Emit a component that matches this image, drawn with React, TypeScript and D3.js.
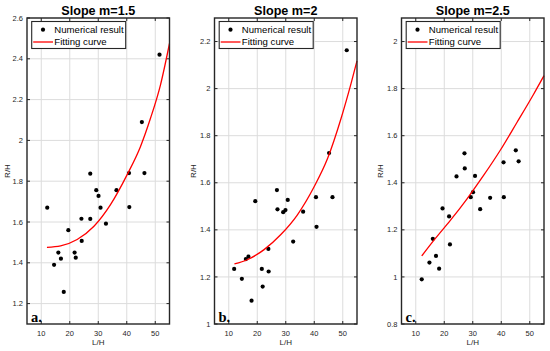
import React from "react";
import * as d3 from "d3";

// ---- Data ----
const titles = ["Slope m=1.5", "Slope m=2", "Slope m=2.5"];
const panelLetters = ["a.", "b.", "c."];
const xTicks = [10, 20, 30, 40, 50];

const yTicksA = [1.2, 1.4, 1.6, 1.8, 2, 2.2, 2.4, 2.6];
const yTicksB = [1, 1.2, 1.4, 1.6, 1.8, 2, 2.2];
const yTicksC = [0.8, 1, 1.2, 1.4, 1.6, 1.8, 2];

const pointsXA = [12.1, 14.5, 16.0, 16.9, 17.9, 19.5, 21.7, 22.1, 24.1, 24.2, 27.2, 27.2, 29.3, 30.1, 30.8, 32.7, 36.4, 40.8, 40.9, 45.3, 46.2, 51.5];
const pointsYA = [1.67, 1.39, 1.45, 1.42, 1.257, 1.56, 1.45, 1.425, 1.616, 1.507, 1.837, 1.615, 1.756, 1.728, 1.67, 1.592, 1.756, 1.84, 1.673, 2.09, 1.84, 2.42];
const curveXA = [12, 16.8, 22.6, 28.5, 34.3, 40.1, 44.8, 48.3, 51.8, 55];
const curveYA = [1.476, 1.483, 1.514, 1.579, 1.685, 1.831, 1.969, 2.107, 2.27, 2.475];

const pointsXB = [11.9, 14.6, 16.0, 16.9, 18.0, 19.3, 21.6, 21.9, 23.9, 24.0, 26.9, 27.1, 29.1, 29.9, 30.7, 32.6, 36.1, 40.6, 40.8, 45.2, 46.4, 51.4];
const pointsYB = [1.234, 1.192, 1.276, 1.286, 1.099, 1.522, 1.234, 1.159, 1.319, 1.223, 1.569, 1.487, 1.475, 1.484, 1.527, 1.35, 1.477, 1.539, 1.413, 1.726, 1.539, 2.163];
const curveXB = [12, 16.5, 22.4, 28.2, 34.1, 40, 44.7, 49.4, 52.9, 55];
const curveYB = [1.255, 1.273, 1.316, 1.379, 1.464, 1.584, 1.704, 1.873, 2.021, 2.118];

const pointsXC = [12.1, 14.8, 16.0, 17.1, 18.2, 19.4, 21.7, 22.0, 24.3, 27.1, 27.2, 29.3, 30.1, 30.8, 32.6, 36.1, 40.8, 40.9, 45.1, 46.1];
const pointsYC = [0.99, 1.061, 1.162, 1.089, 1.035, 1.291, 1.257, 1.138, 1.427, 1.525, 1.461, 1.339, 1.36, 1.429, 1.288, 1.336, 1.487, 1.339, 1.538, 1.491];
const curveXC = [12.1, 16.4, 22.2, 28, 33.8, 39.6, 45.5, 51.3, 55];
const curveYC = [1.089, 1.156, 1.241, 1.332, 1.431, 1.537, 1.656, 1.775, 1.855];

const yDomains: [number, number][] = [[1.1, 2.6], [1, 2.3], [0.8, 2.1]];
const xDomain: [number, number] = [5, 55];

const panels = [
  { left: 27, yLabelX: 7.5, yTicks: yTicksA, px: pointsXA, py: pointsYA, cx: curveXA, cy: curveYA },
  { left: 214.5, yLabelX: 193.5, yTicks: yTicksB, px: pointsXB, py: pointsYB, cx: curveXB, cy: curveYB },
  { left: 401.5, yLabelX: 380, yTicks: yTicksC, px: pointsXC, py: pointsYC, cx: curveXC, cy: curveYC },
];

const W = 142.5;
const TOP = 18;
const BOTTOM = 324;
const AX = "#262626";
const FONT = "Liberation Sans, Arial, Helvetica, sans-serif";

const fmt = (v: number) => String(+v.toFixed(1));

function Panel({ idx }: { idx: number }) {
  const p = panels[idx];
  const x = d3.scaleLinear().domain(xDomain).range([p.left, p.left + W]);
  const y = d3.scaleLinear().domain(yDomains[idx]).range([BOTTOM, TOP]);
  const line = d3
    .line<number>()
    .x((_, i) => x(p.cx[i]))
    .y((d) => y(d))
    .curve(d3.curveMonotoneX);
  const right = p.left + W;
  const tl = 3;
  const lgL = p.left + 4.7;
  const lgT = 21.5;
  return (
    <g>
      {/* grid */}
      {xTicks.map((t) => (
        <line key={"gx" + t} x1={x(t)} x2={x(t)} y1={TOP} y2={BOTTOM} stroke="#dcdcdc" strokeWidth={1} />
      ))}
      {p.yTicks.map((t) => (
        <line key={"gy" + t} x1={p.left} x2={right} y1={y(t)} y2={y(t)} stroke="#dcdcdc" strokeWidth={1} />
      ))}
      {/* ticks */}
      {xTicks.map((t) => (
        <g key={"tx" + t}>
          <line x1={x(t)} x2={x(t)} y1={BOTTOM} y2={BOTTOM - tl} stroke={AX} strokeWidth={1} />
          <line x1={x(t)} x2={x(t)} y1={TOP} y2={TOP + tl} stroke={AX} strokeWidth={1} />
          <text x={x(t)} y={335.5} fontSize={7.5} fill={AX} textAnchor="middle" fontFamily={FONT}>
            {t}
          </text>
        </g>
      ))}
      {p.yTicks.map((t) => (
        <g key={"ty" + t}>
          <line x1={p.left} x2={p.left + tl} y1={y(t)} y2={y(t)} stroke={AX} strokeWidth={1} />
          <line x1={right} x2={right - tl} y1={y(t)} y2={y(t)} stroke={AX} strokeWidth={1} />
          <text x={p.left - 4} y={y(t) + 2.6} fontSize={7.5} fill={AX} textAnchor="end" fontFamily={FONT}>
            {fmt(t)}
          </text>
        </g>
      ))}
      {/* points */}
      {p.px.map((v, i) => (
        <circle key={"p" + i} cx={x(v)} cy={y(p.py[i])} r={2.1} fill="#000" />
      ))}
      {/* curve */}
      <path d={line(p.cy) || ""} fill="none" stroke="#ff0000" strokeWidth={1.3} />
      {/* frame */}
      <rect x={p.left} y={TOP} width={W} height={BOTTOM - TOP} fill="none" stroke={AX} strokeWidth={1.4} />
      {/* legend */}
      <rect x={lgL} y={lgT} width={94} height={27} fill="#fff" stroke={AX} strokeWidth={1.1} />
      <circle cx={lgL + 11.3} cy={lgT + 8.2} r={2.1} fill="#000" />
      <text x={lgL + 22.6} y={lgT + 11.6} fontSize={9.6} fill="#000" fontFamily={FONT}>
        Numerical result
      </text>
      <line x1={lgL + 1.5} x2={lgL + 21.3} y1={lgT + 20.5} y2={lgT + 20.5} stroke="#ff0000" strokeWidth={1.3} />
      <text x={lgL + 22.6} y={lgT + 23.9} fontSize={9.6} fill="#000" fontFamily={FONT}>
        Fitting curve
      </text>
      {/* title */}
      <text x={p.left + W / 2} y={14.5} fontSize={12.6} fontWeight="bold" textAnchor="middle" fill="#000" fontFamily={FONT}>
        {titles[idx]}
      </text>
      {/* axis labels */}
      <text x={p.left + W / 2} y={345.3} fontSize={8} textAnchor="middle" fill={AX} fontFamily={FONT}>
        L/H
      </text>
      <text
        transform={`translate(${p.yLabelX + 2.8},${(TOP + BOTTOM) / 2}) rotate(-90)`}
        fontSize={8}
        textAnchor="middle"
        fill={AX}
        fontFamily={FONT}
      >
        R/H
      </text>
      {/* panel letter */}
      <text x={p.left + 4} y={321.5} fontSize={14.5} fontWeight="bold" fill="#000" fontFamily="Liberation Serif, Times New Roman, serif">
        {panelLetters[idx]}
      </text>
    </g>
  );
}

export default function App() {
  return (
    <svg
      width={550}
      height={351}
      style={{ position: "absolute", left: 0, top: 0, background: "#fff" }}
    >
      <rect x={0} y={0} width={550} height={351} fill="#fff" />
      {[0, 1, 2].map((i) => (
        <Panel key={i} idx={i} />
      ))}
    </svg>
  );
}
